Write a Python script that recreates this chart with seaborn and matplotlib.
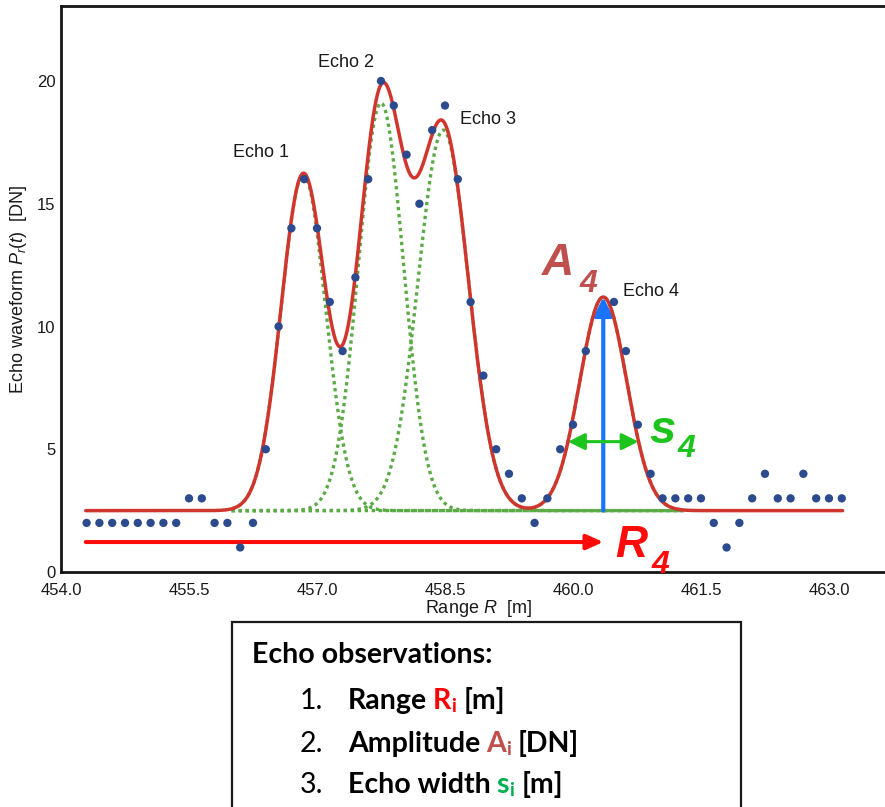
import numpy as np
import pandas as pd
import matplotlib
matplotlib.use("Agg")
import matplotlib.pyplot as plt
import seaborn as sns
from matplotlib.patches import Rectangle

# ---------------- data ----------------
sample_range = [454.30, 454.45, 454.60, 454.75, 454.90, 455.05, 455.20, 455.35,
                455.50, 455.65, 455.80, 455.95, 456.10, 456.25, 456.40, 456.55,
                456.70, 456.85, 457.00, 457.15, 457.30, 457.45, 457.60, 457.75,
                457.90, 458.05, 458.20, 458.35, 458.50, 458.65, 458.80, 458.95,
                459.10, 459.25, 459.40, 459.55, 459.70, 459.85, 460.00, 460.15,
                460.48, 460.62, 460.76, 460.91, 461.05, 461.20, 461.35, 461.50,
                461.65, 461.80, 461.95, 462.10, 462.25, 462.40, 462.55, 462.70,
                462.85, 463.00, 463.15]
sample_amp = [2, 2, 2, 2, 2, 2, 2, 2,
              3, 3, 2, 2, 1, 2, 5, 10,
              14, 16, 14, 11, 9, 12, 16, 20,
              19, 17, 15, 18, 19, 16, 11, 8,
              5, 4, 3, 2, 3, 5, 6, 9,
              11, 9, 6, 4, 3, 3, 3, 3,
              2, 1, 2, 3, 4, 3, 3, 4,
              3, 3, 3]

echo_labels = ["Echo 1", "Echo 2", "Echo 3", "Echo 4"]
echo_range = [456.84, 457.75, 458.48, 460.355]   # R_i [m]
echo_amp = [13.7, 16.6, 15.5, 8.7]               # A_i [DN] above noise level
echo_width = [0.26, 0.264, 0.295, 0.275]          # s_i [m]
noise_level = 2.5
fit_span = (454.29, 463.16)
component_span = (456.0, 461.3)

x_ticks = [454.0, 455.5, 457.0, 458.5, 460.0, 461.5, 463.0]
y_ticks = [0, 5, 10, 15, 20]

# ---------------- style ----------------
sns.set_style("white")
plt.rcParams["font.family"] = ["Liberation Sans", "DejaVu Sans"]
plt.rcParams["mathtext.fontset"] = "custom"
plt.rcParams["mathtext.rm"] = "Liberation Sans"
plt.rcParams["mathtext.it"] = "Liberation Sans:italic"

W, H = 885, 807
fig = plt.figure(figsize=(W / 100, H / 100), dpi=100)
fig.patch.set_facecolor("white")
ax = fig.add_axes([61 / W, (H - 572) / H, (W - 61) / W, 566 / H])

# model curves from echo parameters
def gauss(x, r, a, s):
    return a * np.exp(-((x - r) ** 2) / (2 * s ** 2))

xg = np.linspace(component_span[0], component_span[1], 800)
for r, a, s in zip(echo_range, echo_amp, echo_width):
    sns.lineplot(x=xg, y=noise_level + gauss(xg, r, a, s), ax=ax, color="#5aab45",
                 lw=2.4, linestyle=(0, (1, 1.1)), zorder=2)

xf = np.linspace(fit_span[0], fit_span[1], 1500)
fit = noise_level + sum(gauss(xf, r, a, s) for r, a, s in zip(echo_range, echo_amp, echo_width))
sns.lineplot(x=xf, y=fit, ax=ax, color="#d0362e", lw=2.5, zorder=3)

df = pd.DataFrame({"range": sample_range, "amp": sample_amp})
sns.scatterplot(data=df, x="range", y="amp", ax=ax, s=36, color="#2c4a8e",
                edgecolor="none", zorder=5)

# echo labels
label_pos = [(456.02, 17.07), (457.01, 20.77), (458.68, 18.45), (460.59, 11.42)]
for lab, (lx, ly) in zip(echo_labels, label_pos):
    ax.text(lx, ly, lab, fontsize=13, color="#1a1a1a", ha="left", va="center", zorder=6)

# arrows for echo 4 parameters
r4, a4, s4 = echo_range[3], echo_amp[3], echo_width[3]
ax.annotate("", xy=(r4, noise_level + a4), xytext=(r4, noise_level),
            arrowprops=dict(arrowstyle="-|>,head_length=1.1,head_width=0.55",
                            lw=3.0, color="#1a74ff", shrinkA=0, shrinkB=0), zorder=2.5)
ax.annotate("", xy=(fit_span[0], 1.22), xytext=(r4, 1.22),
            arrowprops=dict(arrowstyle="<|-,head_length=1.0,head_width=0.45",
                            lw=2.9, color="#ff0a0a", shrinkA=0, shrinkB=0), zorder=4)
hw = 1.5 * s4
ax.annotate("", xy=(r4 - hw, 5.31), xytext=(r4 + hw, 5.31),
            arrowprops=dict(arrowstyle="<|-|>,head_length=1.0,head_width=0.5",
                            lw=2.2, color="#1ec41e", shrinkA=0, shrinkB=0), zorder=4)

big = dict(fontweight="bold", fontstyle="italic", ha="left", va="baseline",
           clip_on=False, zorder=6)
ax.text(459.63, 12.10, "A", fontsize=32, color="#c0504d", **big)
ax.text(460.08, 11.40, "4", fontsize=23, color="#c0504d", **big)
ax.text(460.49, 0.61, "R", fontsize=32, color="#ff0a0a", **big)
ax.text(460.92, -0.04, "4", fontsize=23, color="#ff0a0a", **big)
ax.text(460.90, 5.27, "s", fontsize=34, color="#1ec41e", **big)
ax.text(461.23, 4.68, "4", fontsize=23, color="#1ec41e", **big)

# axes formatting
ax.set_xlim(454.0, 454.0 + 824 / 85.33)
ax.set_ylim(0, 566 / 24.55)
ax.set_xticks(x_ticks)
ax.set_xticklabels([f"{t:.1f}" for t in x_ticks])
ax.set_yticks(y_ticks)
ax.set_yticklabels([str(t) for t in y_ticks])
ax.tick_params(direction="in", length=7, width=1, color="#b5b5b5",
               labelsize=12, labelcolor="#1a1a1a")
ax.tick_params(axis="x", pad=8)
ax.tick_params(axis="y", pad=4)
for side in ["left", "bottom", "top"]:
    ax.spines[side].set_visible(True)
    ax.spines[side].set_color("#151515")
    ax.spines[side].set_linewidth(2.0)
ax.spines["right"].set_visible(False)

ax.set_xlabel("Range $R$  [m]", fontsize=13, color="#1a1a1a")
ax.set_ylabel("Echo waveform $P_r(t)$  [DN]", fontsize=13, color="#1a1a1a")
ax.xaxis.set_label_coords((478 - 61) / 824, -(598 - 572) / 566)
ax.yaxis.set_label_coords((29 - 61) / 824, 0.5)

# ---------------- observation box ----------------
fig.patches.append(Rectangle((232 / W, -0.05), (741 - 232) / W, 0.05 + (H - 622) / H,
                             transform=fig.transFigure, fill=False,
                             edgecolor="#1a1a1a", lw=1.6, clip_on=False))

renderer = fig.canvas.get_renderer()
FS = 20.5


def put(x_px, base_py, text, color="black", size=FS, weight="bold"):
    t = fig.text(x_px / W, 1 - base_py / H, text, color=color, fontsize=size,
                 fontweight=weight, fontfamily="Lato", ha="left", va="baseline")
    return x_px + t.get_window_extent(renderer).width


put(251.7, 663.3, "Echo observations:")
rows = [
    ("1.", "Range", "R", "#ff0000", "[m]", 709.3),
    ("2.", "Amplitude", "A", "#c0504d", "[DN]", 751.7),
    ("3.", "Echo width", "s", "#00b050", "[m]", 793.3),
]
for num, word, sym, col, unit, base in rows:
    put(300, base, num, weight="normal")
    x = put(348, base, word)
    x = put(x + 6, base, sym, color=col)
    x = put(x, base + 3, "i", color=col, size=14)
    put(x + 7, base, unit)

fig.savefig("out.png", dpi=100, facecolor="white")
